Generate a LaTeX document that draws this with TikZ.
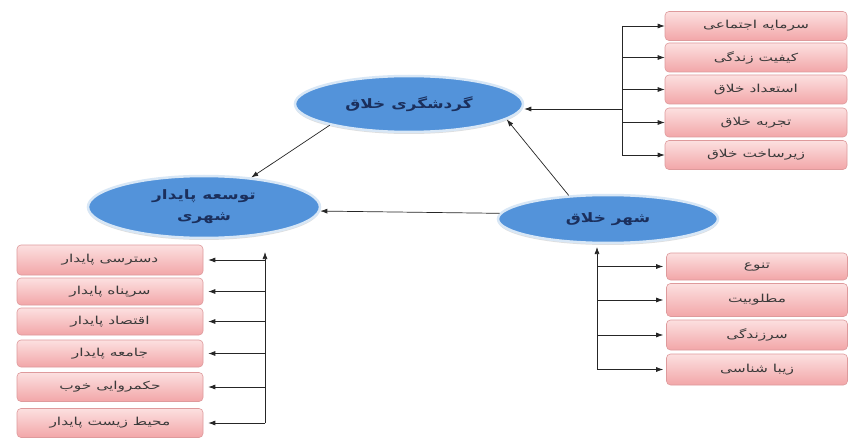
\documentclass[tikz,border=0pt]{standalone}
\usepackage{fontspec}
\usetikzlibrary{arrows.meta,shadows,shapes.geometric}
\TeXXeTstate=1
\newfontfamily\boxfont[Script=Arabic,FakeStretch=1.4]{DejaVu Sans}
\newfontfamily\ellfont[Script=Arabic,FakeStretch=1.3]{DejaVu Sans}
\definecolor{boxtop}{HTML}{FCE0E0}
\definecolor{boxbot}{HTML}{F2A6A8}
\definecolor{boxline}{HTML}{DE9A9C}
\definecolor{ellfill}{HTML}{5393DA}
\definecolor{ellline}{HTML}{D8E7F6}
\definecolor{elltext}{HTML}{1B2F5C}
\definecolor{boxtext}{HTML}{3A3A3A}
\begin{document}
\begin{tikzpicture}[x=1pt,y=-1pt,
 pinkbox/.style={rectangle,rounded corners=4pt,draw=boxline,line width=0.6pt,
   top color=boxtop,bottom color=boxbot,minimum width=182pt,minimum height=29pt,
   inner sep=0pt,font=\boxfont\fontsize{11}{13}\selectfont,text=boxtext},
 blueell/.style={ellipse,draw=ellline,line width=2.5pt,fill=ellfill,inner sep=0pt,
   font=\ellfont\bfseries\fontsize{13}{21}\selectfont,text=elltext,align=center,
   drop shadow={shadow xshift=0pt,shadow yshift=-2pt,fill=black!25}},
 arr/.style={-{Latex[length=7pt,width=5pt]},line width=0.7pt,black!85},
 plain/.style={line width=0.7pt,black!85}]
\useasboundingbox (0,0) rectangle (849,441);
\fill[white] (0,0) rectangle (849,441);

% ellipses
\node[blueell,minimum width=228pt,minimum height=56pt] (g) at (409,104) {\beginR گردشگری خلاق\endR};
\node[blueell,minimum width=232pt,minimum height=62pt] (t) at (204,207) {\beginR توسعه پایدار\endR\\\beginR شهری\endR};
\node[blueell,minimum width=220pt,minimum height=48pt] (s) at (608,219) {\beginR شهر خلاق\endR};

% top right boxes
\node[pinkbox] (tr1) at (756,26) {\beginR سرمایه اجتماعی\endR};
\node[pinkbox] (tr2) at (756,57.5) {\beginR کیفیت زندگی\endR};
\node[pinkbox] (tr3) at (756,89.5) {\beginR استعداد خلاق\endR};
\node[pinkbox] (tr4) at (756,122.5) {\beginR تجربه خلاق\endR};
\node[pinkbox] (tr5) at (756,155) {\beginR زیرساخت خلاق\endR};

% bottom right boxes
\node[pinkbox,minimum width=181pt,minimum height=27pt] (br1) at (757,266.5) {\beginR تنوع\endR};
\node[pinkbox,minimum width=181pt,minimum height=33pt] (br2) at (757,300) {\beginR مطلوبیت\endR};
\node[pinkbox,minimum width=181pt,minimum height=30pt] (br3) at (757,335) {\beginR سرزندگی\endR};
\node[pinkbox,minimum width=181pt,minimum height=31pt] (br4) at (757,369.5) {\beginR زیبا شناسی\endR};

% bottom left boxes
\node[pinkbox,minimum width=186pt,minimum height=30pt] (bl1) at (110,260) {\beginR دسترسی پایدار\endR};
\node[pinkbox,minimum width=186pt,minimum height=27pt] (bl2) at (110,291.5) {\beginR سرپناه پایدار\endR};
\node[pinkbox,minimum width=186pt,minimum height=27pt] (bl3) at (110,321.5) {\beginR اقتصاد پایدار\endR};
\node[pinkbox,minimum width=186pt,minimum height=27pt] (bl4) at (110,353.5) {\beginR جامعه پایدار\endR};
\node[pinkbox,minimum width=186pt,minimum height=29pt] (bl5) at (110,387) {\beginR حکمروایی خوب\endR};
\node[pinkbox,minimum width=186pt,minimum height=29pt] (bl6) at (110,423) {\beginR محیط زیست پایدار\endR};

% main connectors
\draw[arr] (g.195) -- (t.32);
\draw[arr] (s.149) -- (g.-9);
\draw[arr] (s.177) -- (t.-2);

% top right bracket
\coordinate (trX) at (622,0);
\draw[plain] (trX |- tr1.west) -- (trX |- tr5.west);
\foreach \n in {tr1,tr2,tr3,tr4,tr5} \draw[arr] (trX |- \n.west) -- (\n.west);
\coordinate (trJ) at (622,109);
\draw[arr] (trJ) -- (trJ -| g.east);

% bottom left bracket
\coordinate (blT) at (265,252);
\draw[arr] (blT |- bl6.east) -- (blT);
\foreach \n in {bl1,bl2,bl3,bl4,bl5,bl6} \draw[arr] (blT |- \n.east) -- ([xshift=5pt]\n.east);

% bottom right bracket
\coordinate (brT) at (597,247);
\draw[arr] (brT |- br4.west) -- (brT);
\foreach \n in {br1,br2,br3,br4} \draw[arr] (brT |- \n.west) -- ([xshift=-3pt]\n.west);
\end{tikzpicture}
\end{document}
